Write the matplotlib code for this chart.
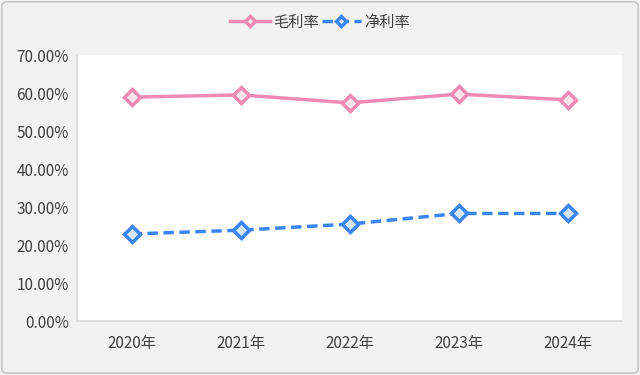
import matplotlib.pyplot as plt
from matplotlib.patches import FancyBboxPatch
from matplotlib.ticker import FuncFormatter

plt.rcParams['font.family'] = ['Noto Sans CJK SC', 'DejaVu Sans']

years = ['2020年', '2021年', '2022年', '2023年', '2024年']
gross_margin = [58.9, 59.5, 57.4, 59.7, 58.2]
net_margin = [22.9, 23.9, 25.5, 28.3, 28.3]


def main():
    fig = plt.figure(figsize=(6.4, 3.75), dpi=100)
    fig.patch.set_facecolor('#f2f2f2')
    border = FancyBboxPatch((0.003, 0.005), 0.994, 0.99, boxstyle='round,pad=0,rounding_size=0.01',
                            transform=fig.transFigure, facecolor='none', edgecolor='#c8c8c8', linewidth=1.2)
    fig.patches.append(border)

    ax = fig.add_axes([77 / 640, 1 - 321 / 375, 545 / 640, 266 / 375])
    ax.set_facecolor('white')
    x = range(len(years))
    ax.plot(x, gross_margin, color='#ef8ab2', linewidth=2.5, marker='D', markersize=8,
            markerfacecolor='#fbe6ee', markeredgecolor='#ef8ab2', markeredgewidth=2.5, label='毛利率')
    ax.plot(x, net_margin, color='#3a86f7', linewidth=2.5, linestyle=(0, (3, 1.6)), marker='D', markersize=8,
            markerfacecolor='#d6e6fd', markeredgecolor='#3a86f7', markeredgewidth=2.5, label='净利率')

    ax.set_xlim(-0.5, 4.5)
    ax.set_ylim(0, 70)
    ax.set_yticks(range(0, 71, 10))
    ax.yaxis.set_major_formatter(FuncFormatter(lambda v, p: f'{v:.2f}%'))
    ax.set_xticks(list(x))
    ax.set_xticklabels(years)
    ax.tick_params(length=0, labelsize=11, colors='#404040')
    ax.tick_params(axis='x', pad=10)
    ax.tick_params(axis='y', pad=6)
    for s in ['top', 'right']:
        ax.spines[s].set_visible(False)
    for s in ['left', 'bottom']:
        ax.spines[s].set_color('#d9d9d9')
        ax.spines[s].set_linewidth(1.2)

    fig.legend(loc='center', bbox_to_anchor=(0.5, 1 - 22 / 375), ncol=2, frameon=False,
               fontsize=11, handlelength=2.6, columnspacing=0.2, handletextpad=0.2,
               markerscale=0.65, labelcolor='#404040')

    fig.savefig('out.png', dpi=100, facecolor=fig.get_facecolor())


if __name__ == "__main__":
    main()
